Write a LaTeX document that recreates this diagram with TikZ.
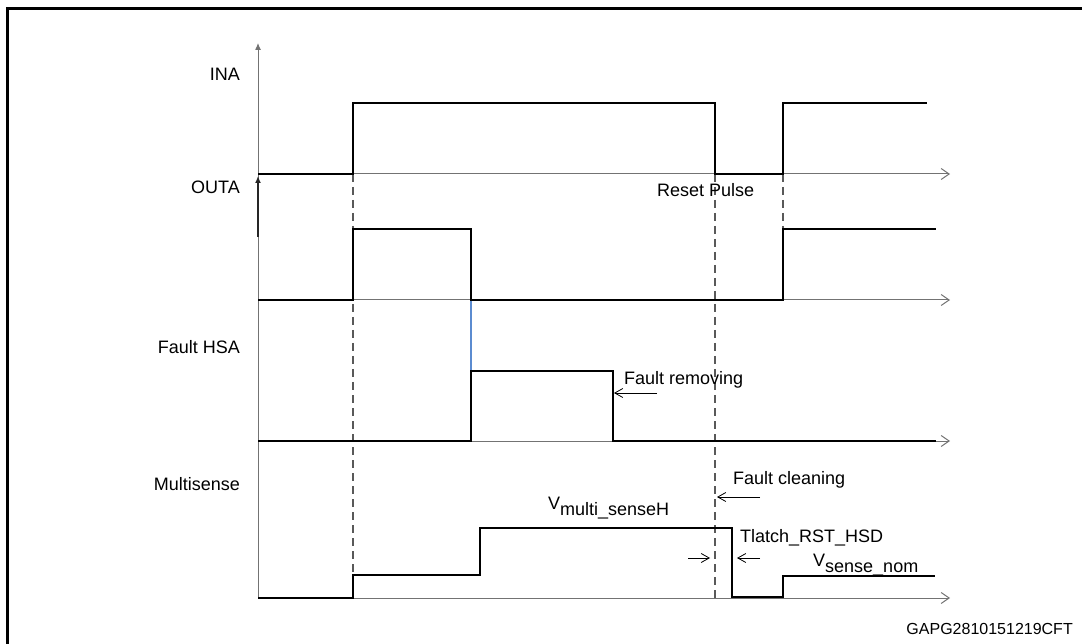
\documentclass[tikz,border=0pt]{standalone}
\usepackage{fontspec}
\setmainfont{Liberation Sans}
\usetikzlibrary{arrows.meta}
\definecolor{edgeblue}{HTML}{5B8BD0}

\begin{document}
\begin{tikzpicture}[
		x=1pt,
		y=-1pt,
		font=\fontsize{18}{20}\selectfont,
		every node/.style={
			inner sep=0pt,
		},
		signal/.style={line width=2.6pt, line join=miter},
		axis/.style={draw=black!55, line width=1pt},
		axistip/.style={-{Straight Barb[length=8pt,width=11pt]}},
		marker/.style={draw=black!65, line width=1.2pt, dash pattern=on 8pt off 5pt},
		note/.style={line width=0.8pt, -{Straight Barb[length=8pt,width=9pt]}},
	]
		\useasboundingbox (0,0) rectangle (1082,644);
		\draw[line width=3pt] (7,660) -- (7,9) -- (1100,9);

		\draw[axis, -{Latex[length=7pt,width=6pt]}] (258,598) -- (258,43);
		\draw[axis, draw=black!85, line width=1.5pt, -{Latex[length=7pt,width=6pt]}] (258,237) -- (258,176);
		\foreach \y in {174,300,441,598}
			\draw[axis, axistip] (258,\y) -- (950,\y);

		\node[anchor=east] (ina) at (240,74) {INA};
		\node[anchor=east] (outa) at (240,187) {OUTA};
		\node[anchor=east] (faulthsa) at (240,347) {Fault HSA};
		\node[anchor=east] (multisense) at (240,484) {Multisense};

		\draw[marker] (353,174) -- (353,575);
		\draw[marker] (783,174) -- (783,229);
		\draw[marker] (715,174) -- (715,598);
		\draw[edgeblue, line width=1.2pt] (471,300) -- (471,371);

		\draw[signal] (258,174) -- (353,174) -- (353,103) -- (715,103) -- (715,174)
			-- (783,174) -- (783,103) -- (927,103);
		\draw[signal] (258,300) -- (353,300) -- (353,229) -- (471,229) -- (471,300)
			-- (783,300) -- (783,229) -- (936,229);
		\draw[signal] (258,441) -- (471,441) -- (471,371) -- (613,371) -- (613,441)
			-- (936,441);
		\draw[signal] (258,598) -- (353,598) -- (353,575) -- (480,575) -- (480,528)
			-- (732,528) -- (732,597) -- (783,597) -- (783,576) -- (935,576);

		\node[anchor=west] (resetpulse) at (657,190) {Reset Pulse};
		\node[anchor=west] (removing) at (624,380) {Fault removing};
		\node[anchor=west] (cleaning) at (733,480) {Fault cleaning};
		\node[anchor=west] (tlatch) at (740,538) {Tlatch\_RST\_HSD};
		\node[anchor=base west] (vmulti) at (548,509) {V\lower6pt\hbox{multi\_senseH}};
		\node[anchor=base west] (vnom) at (813,566) {V\lower6pt\hbox{sense\_nom}};
		\node[anchor=east, font=\fontsize{16}{18}\selectfont] (code) at (1073,629) {GAPG2810151219CFT};

		\coordinate (removingS) at (657,393);
		\coordinate (removingE) at (614,393);
		\coordinate (cleaningS) at (760,497);
		\coordinate (cleaningE) at (717,497);
		\coordinate (tlatchS) at (760,558);
		\coordinate (tlatchE) at (737,558);
		\coordinate (tlatchL) at (688,558);
		\coordinate (tlatchR) at (710,558);
		\draw[note] (removingS) -- (removingE);
		\draw[note] (cleaningS) -- (cleaningE);
		\draw[note] (tlatchS) -- (tlatchE);
		\draw[note] (tlatchL) -- (tlatchR);
	\end{tikzpicture}
\end{document}
